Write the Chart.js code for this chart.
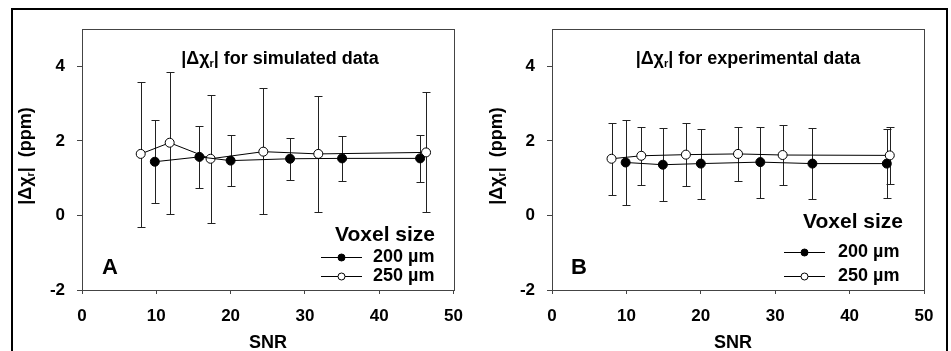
<!DOCTYPE html>
<html>
<head>
<meta charset="utf-8">
<script src="https://cdn.jsdelivr.net/npm/chart.js@4.4.1/dist/chart.umd.min.js"></script>
<style>
    html, body { margin: 0; padding: 0; background: #fff; overflow: hidden; }
    body { width: 951px; height: 351px; position: relative; }
    .frame { position: absolute; left: 11px; top: 8px; width: 933px; height: 400px; border: 2px solid #000; }
    .panel { position: absolute; top: 0; height: 351px; }
    #panelA { left: 0; width: 475px; }
    #panelB { left: 475px; width: 476px; }
</style>
</head>
<body>
<div class="frame"></div>
<div class="panel" id="panelA"><canvas id="chartA"></canvas></div>
<div class="panel" id="panelB"><canvas id="chartB"></canvas></div>
<script>
// Axis ticks
const xTickValues = [0, 10, 20, 30, 40, 50];
const yTickValues = [-2, 0, 2, 4];

// Panel A - simulated data
const simSnr200 = [9.8, 15.8, 20.0, 28.0, 35.0, 45.5];
const simMean200 = [1.44, 1.57, 1.47, 1.52, 1.53, 1.53];
const simLow200 = [0.34, 0.73, 0.80, 0.94, 0.91, 0.90];
const simHigh200 = [2.55, 2.39, 2.15, 2.08, 2.14, 2.16];
const simSnr250 = [7.9, 11.8, 17.3, 24.4, 31.8, 46.3];
const simMean250 = [1.65, 1.95, 1.52, 1.71, 1.65, 1.69];
const simLow250 = [-0.30, 0.05, -0.20, 0.03, 0.09, 0.09];
const simHigh250 = [3.58, 3.85, 3.23, 3.41, 3.19, 3.31];

// Panel B - experimental data
const expSnr200 = [9.9, 14.9, 20.0, 28.0, 35.0, 45.0];
const expMean200 = [1.42, 1.36, 1.39, 1.43, 1.39, 1.39];
const expLow200 = [0.29, 0.38, 0.44, 0.46, 0.44, 0.46];
const expHigh200 = [2.55, 2.34, 2.32, 2.38, 2.35, 2.33];
const expSnr250 = [8.0, 12.0, 18.0, 25.0, 31.0, 45.4];
const expMean250 = [1.52, 1.60, 1.63, 1.65, 1.62, 1.61];
const expLow250 = [0.56, 0.81, 0.78, 0.91, 0.81, 0.83];
const expHigh250 = [2.47, 2.38, 2.47, 2.36, 2.43, 2.38];

const seriesLabels = ['200 \u00b5m', '250 \u00b5m'];
const FONT = '"Liberation Sans", Arial, sans-serif';

// Draw text made of normal and subscript pieces
function drawRich(ctx, parts, x, y, size, align) {
    let total = 0;
    parts.forEach(p => {
        ctx.font = 'bold ' + (p.sub ? Math.round(size * 0.6) : size) + 'px ' + FONT;
        total += ctx.measureText(p.text).width;
    });
    let cx = align === 'center' ? x - total / 2 : x;
    ctx.textAlign = 'left';
    ctx.textBaseline = 'middle';
    parts.forEach(p => {
        ctx.font = 'bold ' + (p.sub ? Math.round(size * 0.6) : size) + 'px ' + FONT;
        ctx.fillText(p.text, cx, p.sub ? y + size * 0.3 : y);
        cx += ctx.measureText(p.text).width;
    });
}

// Error bars, drawn before the lines and markers
const errorBarPlugin = {
    id: 'errorBars',
    beforeDatasetsDraw(chart) {
        const ctx = chart.ctx;
        const xs = chart.scales.x;
        const ys = chart.scales.y;
        ctx.save();
        ctx.strokeStyle = '#222';
        ctx.lineWidth = 1;
        chart.data.datasets.forEach(ds => {
            ds.data.forEach((pt, i) => {
                const px = Math.round(xs.getPixelForValue(pt.x)) + 0.5;
                const top = Math.round(ys.getPixelForValue(ds.errHigh[i])) + 0.5;
                const bot = Math.round(ys.getPixelForValue(ds.errLow[i])) + 0.5;
                ctx.beginPath();
                ctx.moveTo(px, top); ctx.lineTo(px, bot);
                ctx.moveTo(px - 4, top); ctx.lineTo(px + 4, top);
                ctx.moveTo(px - 4, bot); ctx.lineTo(px + 4, bot);
                ctx.stroke();
            });
        });
        ctx.restore();
    }
};

// Box, titles, panel letter and legend
const decorPlugin = {
    id: 'decor',
    afterDraw(chart, args, opts) {
        const ctx = chart.ctx;
        const a = chart.chartArea;
        ctx.save();
        ctx.strokeStyle = '#444';
        ctx.lineWidth = 1;
        ctx.strokeRect(Math.round(a.left) + 0.5, Math.round(a.top) + 0.5,
            Math.round(a.right - a.left), Math.round(a.bottom - a.top));
        ctx.fillStyle = '#000';

        // chart title
        drawRich(ctx, [{text: '|\u0394\u03c7'}, {text: 'r', sub: true}, {text: '| ' + opts.title}],
            opts.titleX, 59, 18, 'center');

        // axis titles
        ctx.font = 'bold 18px ' + FONT;
        ctx.textAlign = 'center';
        ctx.textBaseline = 'middle';
        ctx.fillText('SNR', opts.snrX, 343);
        ctx.save();
        ctx.translate(opts.yTitleX, 156);
        ctx.rotate(-Math.PI / 2);
        drawRich(ctx, [{text: '|\u0394\u03c7'}, {text: 'r', sub: true}, {text: '|  (ppm)'}], 0, 0, 18, 'center');
        ctx.restore();

        // panel letter
        ctx.font = 'bold 22px ' + FONT;
        ctx.textAlign = 'center';
        ctx.fillText(opts.letter, opts.letterX, 268);

        // legend
        const lg = opts.legend;
        ctx.font = 'bold 21px ' + FONT;
        ctx.textAlign = 'left';
        ctx.fillText('Voxel size', lg.headX, lg.headY);
        ctx.font = 'bold 18px ' + FONT;
        lg.rows.forEach((ry, i) => {
            ctx.beginPath();
            ctx.moveTo(lg.lineX0, ry + 0.5);
            ctx.lineTo(lg.lineX1, ry + 0.5);
            ctx.strokeStyle = '#000';
            ctx.stroke();
            ctx.beginPath();
            ctx.arc((lg.lineX0 + lg.lineX1) / 2, ry + 0.5, 3.5, 0, Math.PI * 2);
            ctx.fillStyle = i === 0 ? '#000' : '#fff';
            ctx.fill();
            ctx.stroke();
            ctx.fillStyle = '#000';
            ctx.fillText(seriesLabels[i], lg.textX, ry);
        });
        ctx.restore();
    }
};

function toPoints(xs, ys) {
    return xs.map((x, i) => ({x: x, y: ys[i]}));
}

function makeChart(canvasId, cfg) {
    const ctx = document.getElementById(canvasId).getContext('2d');
    return new Chart(ctx, {
        type: 'line',
        data: {
            datasets: [
                {
                    label: seriesLabels[0],
                    data: toPoints(cfg.snr200, cfg.mean200),
                    errLow: cfg.low200,
                    errHigh: cfg.high200,
                    borderColor: '#000',
                    borderWidth: 1,
                    backgroundColor: '#000',
                    pointBackgroundColor: '#000',
                    pointBorderColor: '#000',
                    pointRadius: 4.5,
                    pointBorderWidth: 1
                },
                {
                    label: seriesLabels[1],
                    data: toPoints(cfg.snr250, cfg.mean250),
                    errLow: cfg.low250,
                    errHigh: cfg.high250,
                    borderColor: '#000',
                    borderWidth: 1,
                    backgroundColor: '#fff',
                    pointBackgroundColor: '#fff',
                    pointBorderColor: '#000',
                    pointRadius: 4.5,
                    pointBorderWidth: 1
                }
            ]
        },
        options: {
            responsive: true,
            maintainAspectRatio: false,
            animation: false,
            events: [],
            layout: { padding: { top: 29, right: cfg.padRight, left: 0, bottom: 0 } },
            scales: {
                x: {
                    type: 'linear',
                    min: 0,
                    max: 50,
                    afterBuildTicks: axis => { axis.ticks = xTickValues.map(v => ({value: v})); },
                    afterFit: axis => { axis.height = 61; },
                    grid: { drawOnChartArea: false, tickLength: 4, color: '#444' },
                    border: { color: '#444' },
                    ticks: {
                        color: '#000',
                        padding: 12,
                        maxRotation: 0,
                        font: { family: FONT, size: 17, weight: 'bold' }
                    }
                },
                y: {
                    min: -2,
                    max: 5,
                    afterBuildTicks: axis => { axis.ticks = yTickValues.map(v => ({value: v})); },
                    afterFit: axis => { axis.width = cfg.yWidth; },
                    grid: { drawOnChartArea: false, tickLength: 5, color: '#444' },
                    border: { color: '#444' },
                    ticks: {
                        color: '#000',
                        padding: 12,
                        font: { family: FONT, size: 17, weight: 'bold' }
                    }
                }
            },
            plugins: {
                legend: { display: false },
                tooltip: { enabled: false },
                decor: cfg.decor
            }
        },
        plugins: [errorBarPlugin, decorPlugin]
    });
}

window.onload = function() {
    makeChart('chartA', {
        snr200: simSnr200, mean200: simMean200, low200: simLow200, high200: simHigh200,
        snr250: simSnr250, mean250: simMean250, low250: simLow250, high250: simHigh250,
        padRight: 20,
        yWidth: 82,
        decor: {
            title: 'for simulated data',
            titleX: 280,
            snrX: 268,
            yTitleX: 26,
            letter: 'A',
            letterX: 110,
            legend: { headX: 335, headY: 235, rows: [257, 276], lineX0: 321, lineX1: 362, textX: 373 }
        }
    });

    makeChart('chartB', {
        snr200: expSnr200, mean200: expMean200, low200: expLow200, high200: expHigh200,
        snr250: expSnr250, mean250: expMean250, low250: expLow250, high250: expHigh250,
        padRight: 27,
        yWidth: 77,
        decor: {
            title: 'for experimental data',
            titleX: 273,
            snrX: 258,
            yTitleX: 22,
            letter: 'B',
            letterX: 104,
            legend: { headX: 328, headY: 222, rows: [252, 276], lineX0: 309, lineX1: 350, textX: 363 }
        }
    });
};
</script>
</body>
</html>
